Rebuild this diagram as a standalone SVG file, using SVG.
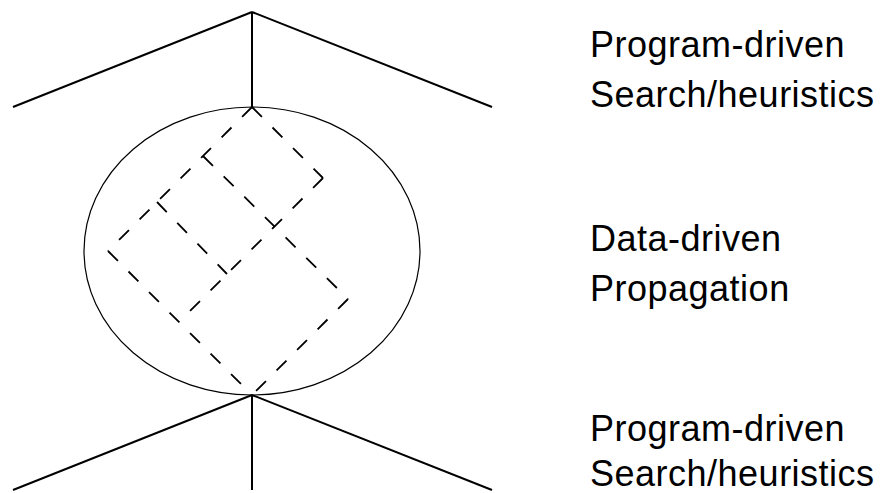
<svg xmlns="http://www.w3.org/2000/svg" width="883" height="493" viewBox="0 0 883 493">
<style>
.solid{stroke:#000;stroke-width:2;fill:none}
.dash{stroke:#000;stroke-width:1.8;fill:none;stroke-dasharray:14 15}
.lbl{font-family:"Liberation Sans",Arial,sans-serif;font-size:36px;letter-spacing:0.5px;fill:#000}
</style>
<rect width="883" height="493" fill="#fff"/>
<g id="top-tree">
<line class="solid" x1="252" y1="12" x2="13" y2="107"/>
<line class="solid" x1="252" y1="12" x2="492" y2="107"/>
<line class="solid" x1="252" y1="12" x2="252" y2="107"/>
</g>
<g id="propagation">
<ellipse cx="252" cy="251" rx="168" ry="144" stroke="#000" stroke-width="1.2" fill="none"/>
</g>
<g id="connectors">
<line class="dash" x1="252" y1="107" x2="108" y2="251"/>
<line class="dash" x1="252" y1="107" x2="323" y2="178"/>
<line class="dash" x1="323" y1="178" x2="180" y2="321"/>
<line class="dash" x1="108" y1="251" x2="252" y2="395"/>
<line class="dash" x1="203" y1="156" x2="348" y2="299"/>
<line class="dash" x1="157" y1="202" x2="227" y2="274"/>
<line class="dash" x1="348" y1="299" x2="252" y2="395"/>
</g>
<g id="bottom-tree">
<line class="solid" x1="252" y1="395" x2="13" y2="490"/>
<line class="solid" x1="252" y1="395" x2="492" y2="490"/>
<line class="solid" x1="252" y1="395" x2="252" y2="490"/>
</g>
<g id="labels">
<text class="lbl" x="590" y="57">Program-driven</text>
<text class="lbl" x="590" y="107">Search/heuristics</text>
<text class="lbl" x="590" y="251">Data-driven</text>
<text class="lbl" x="590" y="301">Propagation</text>
<text class="lbl" x="590" y="441">Program-driven</text>
<text class="lbl" x="590" y="486">Search/heuristics</text>
</g>
</svg>
